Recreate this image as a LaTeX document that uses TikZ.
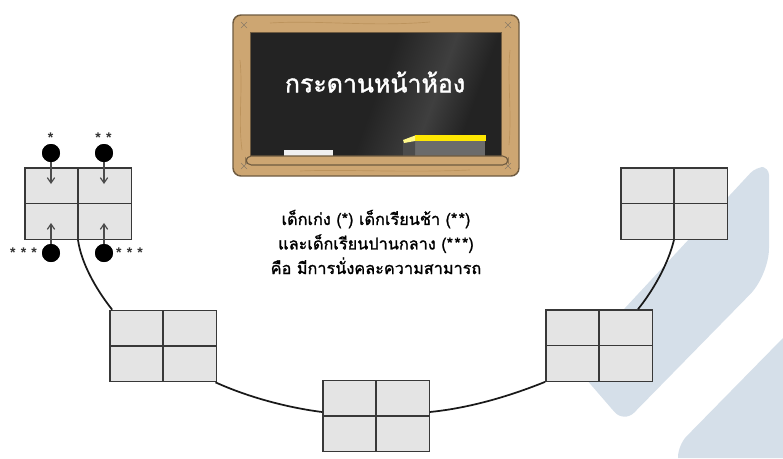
\documentclass[tikz,border=0pt]{standalone}
\usepackage{fontspec}
\setmainfont{Liberation Sans}
\newfontfamily\thaifont[Script=Thai,FakeBold=1.3]{Loma}
\usetikzlibrary{arrows.meta,shadings}
\definecolor{tablefill}{HTML}{E4E4E4}
\definecolor{tableline}{HTML}{383838}
\definecolor{bluebg}{HTML}{D5DFE9}
\definecolor{wood}{HTML}{CDA672}
\definecolor{woodgrain}{HTML}{BC935C}
\definecolor{woodedge}{HTML}{6F5B40}
\definecolor{boardc}{HTML}{232323}
\definecolor{boardl}{HTML}{3F3F3F}
\pgfdeclarehorizontalshading{boardshade}{100bp}{color(0bp)=(boardc); color(50bp)=(boardc); color(63bp)=(boardl); color(72bp)=(boardc); color(100bp)=(boardc)}
\tikzset{
  x=0.75pt,y=-0.75pt,
  deskgroup/.style={draw=tableline,line width=1pt,fill=tablefill,minimum width=79.75pt,minimum height=53.5pt,inner sep=0pt,
    path picture={\draw[tableline,line width=1pt] (path picture bounding box.north)--(path picture bounding box.south)
      (path picture bounding box.west)--(path picture bounding box.east);}},
  link/.style={black!90,line width=1.3pt},
  student/.style={circle,fill=black,minimum size=13.5pt,inner sep=0pt},
  pointer/.style={draw=black!70,line width=0.9pt,-{Straight Barb[length=4pt,width=5.5pt]}},
  stars/.style={font=\bfseries\fontsize{10.5}{10.5}\selectfont,text=black!80,inner sep=0pt},
  thai/.style={font=\thaifont\fontsize{12.2}{18.4}\selectfont,text=black,align=center,inner sep=0pt},
  grain/.style={woodgrain,line width=0.5pt},
  nail/.style={woodedge!80,line width=0.5pt},
}
\newcommand{\sgap}{\kern3.9pt}
\begin{document}
\begin{tikzpicture}
\useasboundingbox (0,0) rectangle (783,458);
% background shapes
\fill[bluebg] [rounded corners=6pt] (573,364) [rounded corners=11pt] -- (624,423) [rounded corners=20pt] -- (769,275) [rounded corners=6pt] -- (769,167) -- (756,167) -- cycle;
\fill[bluebg] [rounded corners=9pt] (783,338) -- (678,445) [sharp corners] -- (678,458) -- (783,458) -- cycle;
% chalkboard
\draw[woodedge,fill=wood,line width=1.1pt,rounded corners=6pt] (233,15) rectangle (519,176);
\draw[grain] (240,60) .. controls (243,90) and (238,120) .. (242,150);
\draw[grain] (510,50) .. controls (507,80) and (512,110) .. (509,145);
\draw[grain] (270,23) .. controls (320,20) and (370,27) .. (430,22);
\draw[grain] (300,171) .. controls (350,169) and (400,173) .. (470,170);
\draw[nail] (241,22) -- (247,28) (247,22) -- (241,28);
\draw[nail] (505,22) -- (511,28) (511,22) -- (505,28);
\draw[nail] (241,163) -- (247,169) (247,163) -- (241,169);
\draw[nail] (505,163) -- (511,169) (511,163) -- (505,169);
\shade[shading=boardshade,shading angle=-20] (250,32) rectangle (501,157);
\draw[woodedge,line width=0.6pt] (250,32) rectangle (501,157);
\fill[white!88!gray] (284,150) rectangle (333,156);
\fill[gray!45!black!75] (415,141) rectangle (485,156);
\fill[gray!60!black] (403,142) -- (415,141) -- (415,156) -- (403,156) -- cycle;
\fill[yellow!90!orange] (415,135) -- (486,135) -- (486,141) -- (415,141) -- cycle;
\fill[yellow!45] (403,140) -- (415,135.5) -- (415,141) -- (404,143) -- cycle;
\draw[woodedge,fill=wood,line width=0.8pt,rounded corners=4pt] (246,156) rectangle (508,165);
\node[thai,text=white,font=\thaifont\fontsize{18.7}{20}\selectfont] (title) at (375,82) {กระดานหน้าห้อง};
% caption
\node[thai] (caption) at (376,242) {เด็กเก่ง (*) เด็กเรียนช้า (*\kern1pt*)\\และเด็กเรียนปานกลาง (*\kern1pt*\kern1pt*)\\คือ มีการนั่งคละความสามารถ};
% desk groups
\node[deskgroup] (t1) at (78,203.5) {};
\node[deskgroup] (t2) at (163,346) {};
\node[deskgroup] (t3) at (376,416) {};
\node[deskgroup] (t4) at (599,345.5) {};
\node[deskgroup] (t5) at (674,203.5) {};
% links
\draw[link] (t1.south) .. controls (81,262) and (95,288) .. ([xshift=2.25pt]t2.north west);
\draw[link] ([xshift=-1pt]t2.south east) .. controls (250,398) and (290,408) .. ([yshift=3pt]t3.west);
\draw[link] ([yshift=3pt]t3.east) .. controls (470,408) and (510,396) .. (t4.south west);
\draw[link] ([xshift=29.25pt]t4.north) .. controls (652,292) and (668,265) .. (t5.south);
% students
\node[student] (s1) at (51,153) {};
\node[student] (s2) at (104,153) {};
\node[student] (s3) at (51,253) {};
\node[student] (s4) at (104,253) {};
\coordinate (p1) at (51,184);
\coordinate (p2) at (104,184);
\coordinate (p3) at (51,223);
\coordinate (p4) at (104,223);
\draw[pointer] (s1) -- (p1);
\draw[pointer] (s2) -- (p2);
\draw[pointer] (s3) -- (p3);
\draw[pointer] (s4) -- (p4);
\node[student] at (s1) {};
\node[student] at (s2) {};
\node[student] at (s3) {};
\node[student] at (s4) {};
\node[stars] (a1) at (50.5,138) {*};
\node[stars] (a2) at (103.5,138) {*\sgap*};
\node[stars] (a3) at (23.5,253) {*\sgap*\sgap*};
\node[stars] (a4) at (129.5,253) {*\sgap*\sgap*};
\end{tikzpicture}
\end{document}
